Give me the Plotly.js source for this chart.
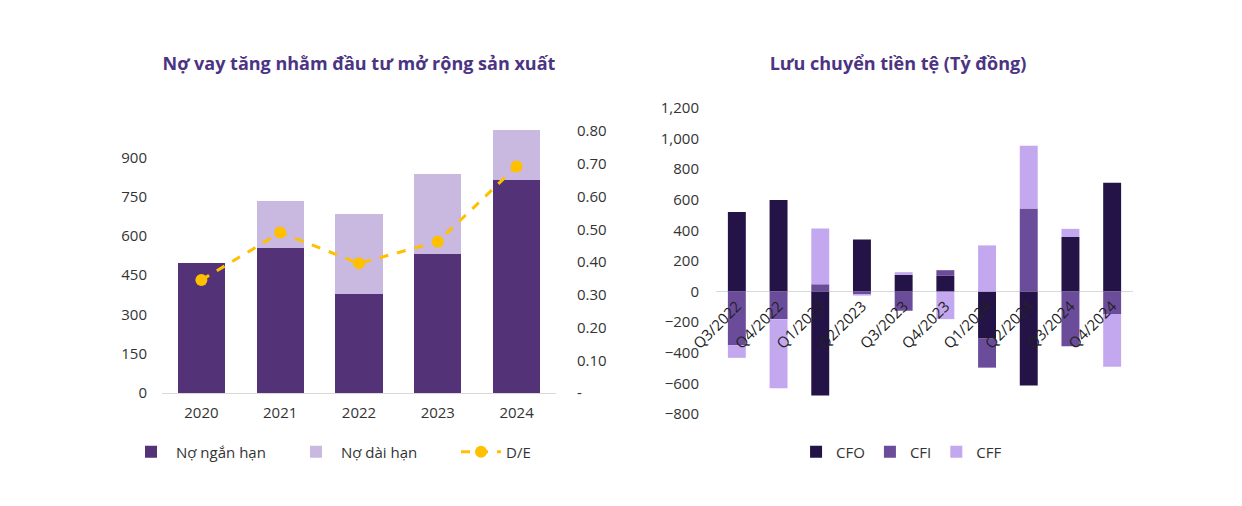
<!DOCTYPE html>
<html>
<head>
<meta charset="utf-8">
<script src="https://cdn.plot.ly/plotly-3.0.1.min.js"></script>
<style>
  html, body { margin: 0; padding: 0; background: #ffffff; }
  #wrap { position: relative; width: 1242px; height: 506px; background: #ffffff; }
  #left { position: absolute; left: 0; top: 0; width: 621px; height: 506px; }
  #right { position: absolute; left: 621px; top: 0; width: 621px; height: 506px; }
</style>
</head>
<body>
<div id="wrap">
  <div id="left"></div>
  <div id="right"></div>
</div>
<script>
// ---- Left chart data ----
const years = ['2020', '2021', '2022', '2023', '2024'];
const shortDebt = [497, 553, 377, 529, 813];
const longDebt = [0, 180, 307, 307, 191];
const deRatio = [0.345, 0.490, 0.396, 0.462, 0.692];
const leftTicks = [0, 150, 300, 450, 600, 750, 900];
const rightTickVals = [0, 0.1, 0.2, 0.3, 0.4, 0.5, 0.6, 0.7, 0.8];
const rightTickText = ['-', '0.10', '0.20', '0.30', '0.40', '0.50', '0.60', '0.70', '0.80'];

// ---- Right chart data ----
const quarters = ['Q3/2022', 'Q4/2022', 'Q1/2023', 'Q2/2023', 'Q3/2023', 'Q4/2023', 'Q1/2024', 'Q2/2024', 'Q3/2024', 'Q4/2024'];
const cfo = [521, 598, -679, 340, 110, 103, -307, -613, 357, 712];
const cfi = [-350, -180, 48, -16, -125, 37, -190, 543, -357, -147];
const cff = [-83, -451, 364, -10, 17, -180, 302, 410, 53, -344];

const FONT = '"Open Sans", Lato, sans-serif';
const TITLE_COLOR = '#4b3482';
const TEXT_COLOR = '#333333';

// ---- Left chart ----
const leftTraces = [
  { type: 'bar', name: 'Nợ ngắn hạn', x: years, y: shortDebt, marker: { color: '#533278' } },
  { type: 'bar', name: 'Nợ dài hạn', x: years, y: longDebt, marker: { color: '#c9b8e0' } },
  { type: 'scatter', mode: 'lines+markers', name: 'D/E', x: years, y: deRatio, yaxis: 'y2',
    line: { color: '#ffc000', width: 3, dash: 'dash' }, marker: { color: '#ffc000', size: 12 } }
];
const leftLayout = {
  width: 621, height: 506,
  paper_bgcolor: '#ffffff', plot_bgcolor: '#ffffff',
  margin: { l: 162, r: 65, t: 118, b: 113 },
  font: { family: FONT, color: TEXT_COLOR, size: 14 },
  title: { text: '<b>Nợ vay tăng nhằm đầu tư mở rộng sản xuất</b>', font: { family: FONT, size: 18, color: TITLE_COLOR },
    x: 0.578, xanchor: 'center', xref: 'container', y: 0.8735, yanchor: 'middle', yref: 'container' },
  barmode: 'stack', bargap: 0.4,
  showlegend: true,
  legend: { orientation: 'h', x: -0.03, xanchor: 'left', y: -0.2145, yanchor: 'middle',
    entrywidth: 110, itemwidth: 40,
    font: { family: FONT, size: 15, color: TEXT_COLOR }, traceorder: 'normal' },
  xaxis: { type: 'category', showline: true, linecolor: '#d9d9d9', linewidth: 1, ticks: '', showgrid: false,
    ticklabelstandoff: 6, tickfont: { family: FONT, size: 15, color: TEXT_COLOR }, fixedrange: true },
  yaxis: { range: [0, 1050], tickvals: leftTicks, showgrid: false, zeroline: false, showline: false, ticks: '',
    ticklabelstandoff: 14, tickfont: { family: FONT, size: 15, color: TEXT_COLOR }, fixedrange: true },
  yaxis2: { overlaying: 'y', side: 'right', range: [0, 0.84], tickvals: rightTickVals, ticktext: rightTickText,
    showgrid: false, zeroline: false, showline: false, ticks: '', ticklabelstandoff: 20,
    tickfont: { family: FONT, size: 15, color: TEXT_COLOR }, fixedrange: true }
};
Plotly.newPlot('left', leftTraces, leftLayout, { displayModeBar: false, staticPlot: true });

// ---- Right chart ----
const rightTraces = [
  { type: 'bar', name: 'CFO', x: quarters, y: cfo, marker: { color: '#241346' } },
  { type: 'bar', name: 'CFI', x: quarters, y: cfi, marker: { color: '#6b4c9a' } },
  { type: 'bar', name: 'CFF', x: quarters, y: cff, marker: { color: '#c4a8ef' } }
];
const rightLayout = {
  width: 621, height: 506,
  paper_bgcolor: '#ffffff', plot_bgcolor: 'rgba(0,0,0,0)',
  margin: { l: 95, r: 109, t: 108, b: 92 },
  font: { family: FONT, color: TEXT_COLOR, size: 14 },
  title: { text: '<b>Lưu chuyển tiền tệ (Tỷ đồng)</b>', font: { family: FONT, size: 18, color: TITLE_COLOR },
    x: 0.446, xanchor: 'center', xref: 'container', y: 0.8735, yanchor: 'middle', yref: 'container' },
  barmode: 'relative', bargap: 0.57,
  showlegend: true,
  legend: { orientation: 'h', x: 0.445, xanchor: 'center', y: -0.124, yanchor: 'middle',
    itemwidth: 30,
    font: { family: FONT, size: 15, color: TEXT_COLOR }, traceorder: 'normal' },
  xaxis: { type: 'category', anchor: 'free', position: 0.4, showline: false, ticks: '', showgrid: false,
    tickangle: -45, ticklabelstandoff: 2, tickfont: { family: FONT, size: 15, color: '#222222' }, fixedrange: true },
  yaxis: { range: [-800, 1200], dtick: 200, tickformat: ',', showgrid: false, zeroline: true,
    zerolinecolor: '#d9d9d9', zerolinewidth: 1, showline: false, ticks: '', ticklabelstandoff: 16,
    tickfont: { family: FONT, size: 15, color: TEXT_COLOR }, fixedrange: true }
};
Plotly.newPlot('right', rightTraces, rightLayout, { displayModeBar: false, staticPlot: true });
</script>
</body>
</html>
